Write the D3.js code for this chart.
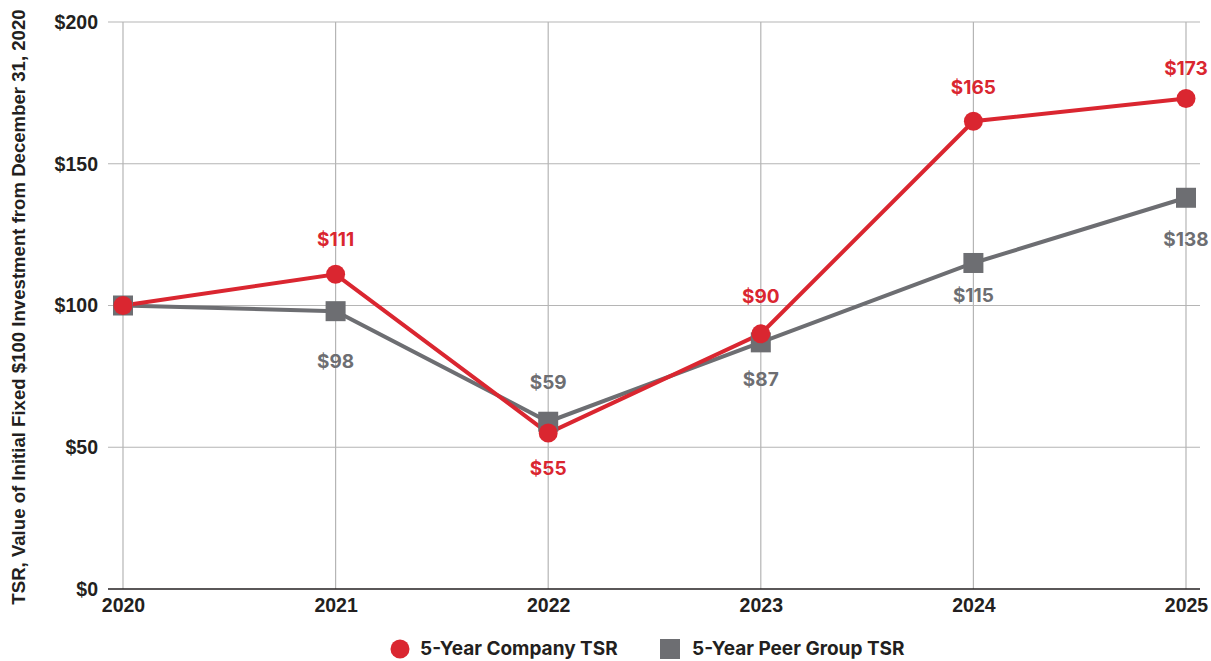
<!DOCTYPE html>
<html>
<head>
<meta charset="utf-8">
<script src="https://cdn.jsdelivr.net/npm/d3@7"></script>
<style>
  html, body { margin: 0; padding: 0; background: #fff; }
  svg { display: block; font-family: Inter, "Noto Sans", sans-serif; }
</style>
</head>
<body>
<div id="vis"></div>
<script>
var years = ["2020", "2021", "2022", "2023", "2024", "2025"]
var companyTSR = [100, 111, 55, 90, 165, 173]
var peerTSR = [100, 98, 59, 87, 115, 138]
var yTicks = [0, 50, 100, 150, 200]

var red = "#da2630", gray = "#6d6e72", ink = "#231f20"
var width = 1211, height = 661

var svg = d3.select("#vis").append("svg")
    .attr("width", width)
    .attr("height", height)

var x = d3.scalePoint().domain(years).range([123, 1186])
var y = d3.scaleLinear().domain([0, 200]).range([589, 22])
var left = 108, right = 1200

// grid
svg.append("g").selectAll("line.h")
    .data(yTicks.filter(function (d) { return d > 0 }))
    .enter().append("line")
    .attr("x1", left).attr("x2", right)
    .attr("y1", function (d) { return y(d) }).attr("y2", function (d) { return y(d) })
    .attr("stroke", "#b5b5b5").attr("stroke-width", 1.2)

svg.append("g").selectAll("line.v")
    .data(years)
    .enter().append("line")
    .attr("x1", function (d) { return x(d) }).attr("x2", function (d) { return x(d) })
    .attr("y1", y(200)).attr("y2", y(0))
    .attr("stroke", "#b5b5b5").attr("stroke-width", 1.2)

// axes
var yAxis = svg.append("g")
    .attr("transform", "translate(" + left + ",0)")
    .call(d3.axisLeft(y).tickValues(yTicks).tickSize(0).tickPadding(10).tickFormat(function (d) { return "$" + d }))
yAxis.select("path.domain").remove()
yAxis.selectAll("text")
    .attr("fill", ink).style("font-size", "19.5px").style("font-weight", 700)

svg.append("line")
    .attr("x1", left).attr("x2", right)
    .attr("y1", y(0)).attr("y2", y(0))
    .attr("stroke", ink).attr("stroke-width", 1.5)

var xAxis = svg.append("g")
    .attr("transform", "translate(0," + y(0) + ")")
    .call(d3.axisBottom(x).tickSize(0).tickPadding(9))
xAxis.select("path.domain").remove()
xAxis.selectAll("text")
    .attr("fill", ink).style("font-size", "19.5px").style("font-weight", 700)

svg.append("text")
    .attr("transform", "translate(25,307)rotate(-90)")
    .attr("text-anchor", "middle")
    .attr("fill", ink)
    .style("font-family", "'Liberation Sans', Arial, sans-serif")
    .style("font-size", "18.6px").style("font-weight", 700)
    .text("TSR, Value of Initial Fixed $100 Investment from December 31, 2020")

// lines
var line = d3.line()
    .x(function (d, i) { return x(years[i]) })
    .y(function (d) { return y(d) })

svg.append("path").datum(peerTSR)
    .attr("d", line).attr("fill", "none")
    .attr("stroke", gray).attr("stroke-width", 4)

svg.append("path").datum(companyTSR)
    .attr("d", line).attr("fill", "none")
    .attr("stroke", red).attr("stroke-width", 4)

svg.append("g").selectAll("rect")
    .data(peerTSR)
    .enter().append("rect")
    .attr("x", function (d, i) { return x(years[i]) - 10 })
    .attr("y", function (d) { return y(d) - 10 })
    .attr("width", 20).attr("height", 20)
    .attr("fill", gray)

svg.append("g").selectAll("circle")
    .data(companyTSR)
    .enter().append("circle")
    .attr("cx", function (d, i) { return x(years[i]) })
    .attr("cy", function (d) { return y(d) })
    .attr("r", 9.5)
    .attr("fill", red)

// label nudges (px from marker centre to baseline), 2020 base point has none
var companyLabelDy = [0, -28, 42, -31, -27, -24]
var peerLabelDy = [0, 57, -33, 44, 39, 48]

function labels(values, color, dy) {
    svg.append("g").selectAll("text")
        .data(values.slice(1))
        .enter().append("text")
        .attr("x", function (d, i) { return x(years[i + 1]) })
        .attr("y", function (d, i) { return y(d) + dy[i + 1] })
        .attr("text-anchor", "middle")
        .attr("fill", color)
        .style("font-size", "19px").style("font-weight", 700)
        .text(function (d) { return "$" + d })
}
labels(companyTSR, red, companyLabelDy)
labels(peerTSR, gray, peerLabelDy)

// legend
var legend = svg.append("g").attr("transform", "translate(0,649)")
legend.append("circle").attr("cx", 400).attr("cy", 0).attr("r", 9.5).attr("fill", red)
legend.append("text").attr("x", 420).attr("y", 6)
    .attr("fill", ink).style("font-size", "19px").style("font-weight", 700)
    .text("5-Year Company TSR")
legend.append("rect").attr("x", 660).attr("y", -10).attr("width", 20).attr("height", 20).attr("fill", gray)
legend.append("text").attr("x", 692).attr("y", 6)
    .attr("fill", ink).style("font-size", "19px").style("font-weight", 700)
    .text("5-Year Peer Group TSR")
</script>
</body>
</html>
